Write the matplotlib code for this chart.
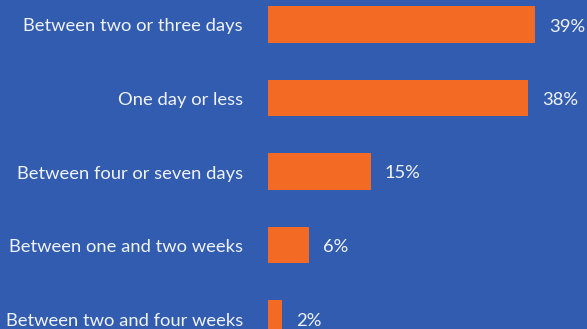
import matplotlib
matplotlib.use("Agg")
import matplotlib.pyplot as plt

categories = [
    "Between two or three days",
    "One day or less",
    "Between four or seven days",
    "Between one and two weeks",
    "Between two and four weeks",
]
shares = [39, 38, 15, 6, 2]

BG = "#325cb0"
BAR = "#f26a23"

plt.rcParams["font.family"] = ["Lato", "DejaVu Sans"]

fig = plt.figure(figsize=(5.87, 3.29), dpi=100, facecolor=BG)
ax = fig.add_axes([268 / 587, 0, 1 - 268 / 587, 1])
ax.set_facecolor(BG)

ypos = list(range(len(categories)))
ax.barh(ypos, shares, height=0.503, color=BAR)

for y, name, v in zip(ypos, categories, shares):
    ax.annotate(name, xy=(0, y), xytext=(-25, -2), textcoords="offset pixels",
                ha="right", va="center", color="#f0f3fa", fontsize=13.2,
                annotation_clip=False)
    ax.annotate(f"{v}%", xy=(v, y), xytext=(14, -2), textcoords="offset pixels",
                ha="left", va="center", color="#f0f3fa", fontsize=13.2,
                annotation_clip=False)

ax.set_xlim(0, (587 - 268) / 6.85)
ax.set_ylim(4 + 10.5 / 73.5, -24.5 / 73.5)
ax.axis("off")

fig.savefig("out.png", dpi=100, facecolor=BG)
